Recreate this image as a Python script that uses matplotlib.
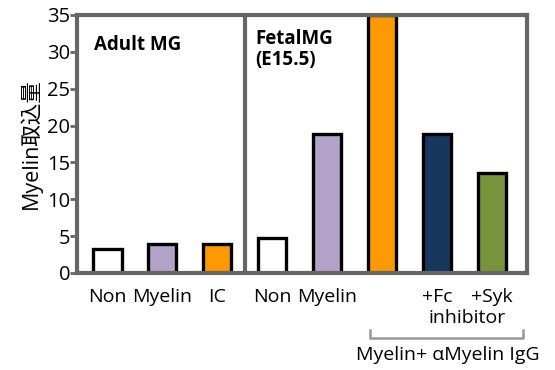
import matplotlib
matplotlib.use('Agg')
import matplotlib.pyplot as plt

plt.rcParams['font.family'] = ['Open Sans', 'Noto Sans CJK JP', 'DejaVu Sans']

# values
labels = ['Non', 'Myelin', 'IC', 'Non', 'Myelin', '', '+Fc', '+Syk']
values = [3.3, 4.0, 4.0, 4.7, 18.9, 35.0, 18.9, 13.6]
colors = ['white', '#B3A2C7', '#FF9900', 'white', '#B3A2C7', '#FF9900', '#17375E', '#77933C']
yticks = [0, 5, 10, 15, 20, 25, 30, 35]

fig = plt.figure(figsize=(5.55, 3.7), dpi=100)
ax = fig.add_axes([77 / 555, 1 - 273 / 370, 450 / 555, 258 / 370])

x = list(range(len(values)))
ax.bar(x, values, width=0.52, color=colors, edgecolor='black', linewidth=2.4, zorder=2)

ax.set_xlim(-0.55, 7.64)
ax.set_ylim(0, 35)
ax.set_yticks(yticks)
ax.set_xticks(x)
ax.set_xticklabels(labels, fontsize=14)
ax.tick_params(axis='x', length=0, pad=11)
ax.tick_params(axis='y', length=5, width=2, color='#666666', labelsize=14.5, pad=0)

for s in ax.spines.values():
    s.set_color('#666666')
    s.set_linewidth(3)

ax.axvline(2.5, color='#666666', linewidth=3, zorder=3)

ax.set_ylabel('Myelin取込量', fontsize=15.5, labelpad=4)

ax.text(-0.24, 30.9, 'Adult MG', fontsize=13.5, fontweight='bold', va='center')
ax.text(2.69, 30.3, 'FetalMG\n(E15.5)', fontsize=13.5, fontweight='bold', va='center', linespacing=1.05)

# second line under the +Fc / +Syk labels
ax.text(6.55, -6.1, 'inhibitor', fontsize=14, ha='center', va='center', clip_on=False)

# bracket
bx = [4.78, 4.78, 7.56, 7.56]
by = [-7.7, -8.8, -8.8, -7.7]
ax.plot(bx, by, color='#999999', linewidth=1.8, clip_on=False)
ax.text(6.2, -11.1, 'Myelin+ αMyelin IgG', fontsize=14, ha='center', va='center', clip_on=False)

fig.savefig('out.png', dpi=100)
